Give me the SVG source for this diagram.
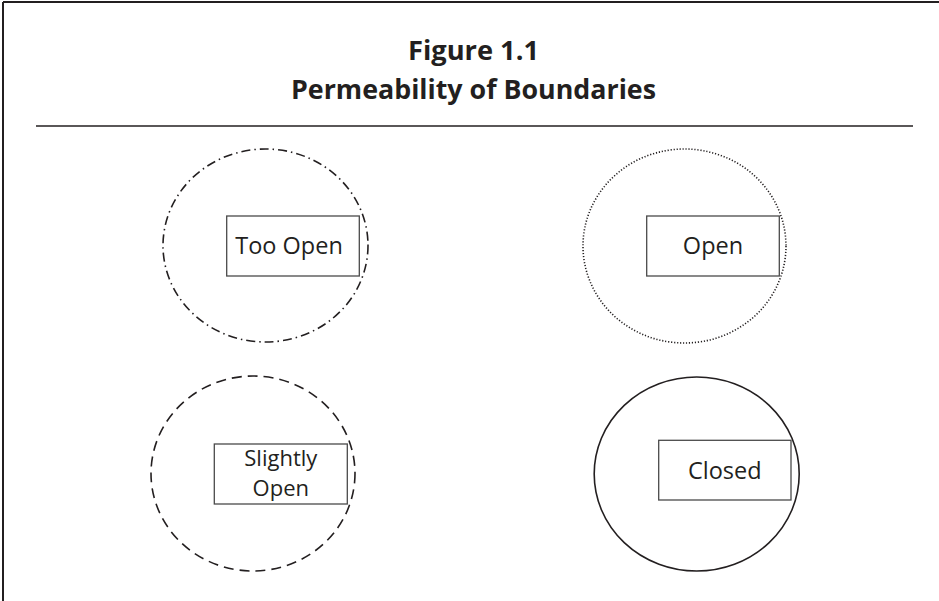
<svg xmlns="http://www.w3.org/2000/svg" width="939" height="601" viewBox="0 0 939 601">
<style>
.frame{stroke:#231f20;stroke-width:2;fill:none}
.rule{stroke:#231f20;stroke-width:1.6;fill:none}
.title{font-family:"Open Sans","Liberation Sans",sans-serif;font-weight:bold;font-size:26px;fill:#231f20;text-anchor:middle}
.circ{fill:none;stroke:#231f20;stroke-width:1.6}
.box{fill:#fff;stroke:#4a4a4a;stroke-width:1.3}
.lbl{font-family:"Open Sans","Liberation Sans",sans-serif;font-size:23.5px;fill:#231f20;text-anchor:middle}
.lbl2{font-size:22px}
</style>
<rect width="939" height="601" fill="#fff"/>
<g id="frame">
<line class="frame" x1="3" y1="2" x2="939" y2="2"/>
<line class="frame" x1="3" y1="2" x2="3" y2="601"/>
<line class="rule" x1="36" y1="126" x2="913" y2="126"/>
</g>
<g id="title">
<text class="title" x="473.5" y="60" textLength="131" lengthAdjust="spacingAndGlyphs">Figure 1.1</text>
<text class="title" x="473.5" y="99" textLength="365" lengthAdjust="spacingAndGlyphs">Permeability of Boundaries</text>
</g>
<g id="too-open">
<ellipse class="circ" cx="265.5" cy="245.5" rx="102.5" ry="96.5" stroke-dasharray="9 4 1.5 4"/>
<rect class="box" x="226.7" y="216" width="132.6" height="60"/>
<text class="lbl" x="289" y="254">Too Open</text>
</g>
<g id="open">
<ellipse class="circ" cx="684.5" cy="246" rx="101.5" ry="97" stroke-dasharray="1.2 1.8"/>
<rect class="box" x="646.7" y="216" width="132.6" height="60"/>
<text class="lbl" x="713" y="254">Open</text>
</g>
<g id="slightly-open">
<ellipse class="circ" cx="253" cy="473.5" rx="102" ry="97.5" stroke-dasharray="10 6"/>
<rect class="box" x="214.3" y="444" width="133" height="60"/>
<text class="lbl lbl2" x="280.8" y="466">Slightly</text>
<text class="lbl lbl2" x="280.8" y="496">Open</text>
</g>
<g id="closed">
<ellipse class="circ" cx="696.7" cy="474" rx="102.5" ry="97"/>
<rect class="box" x="658.7" y="440.3" width="132.3" height="59.7"/>
<text class="lbl" x="724.8" y="479">Closed</text>
</g>
<g id="connectors"></g>
</svg>
